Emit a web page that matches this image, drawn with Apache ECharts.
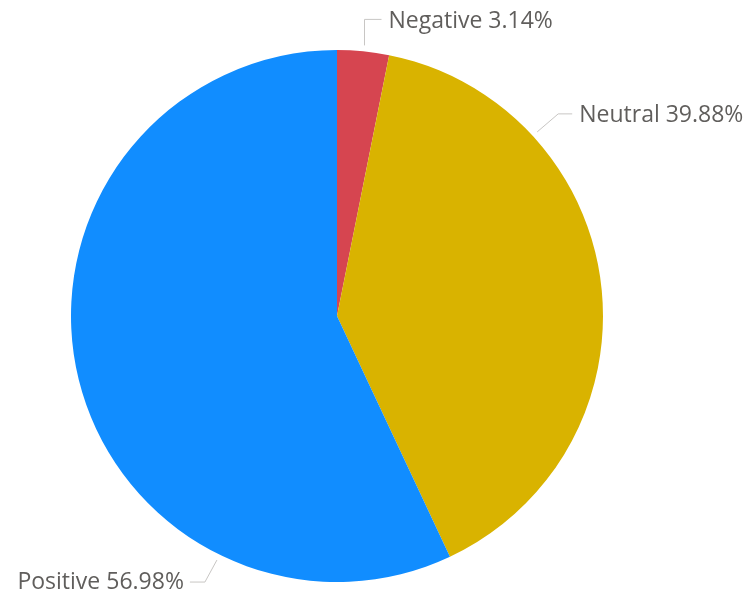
<!DOCTYPE html>
<html>
<head>
<meta charset="utf-8">
<script src="https://cdn.jsdelivr.net/npm/echarts@6/dist/echarts.min.js"></script>
<style>html,body{margin:0;padding:0;background:#fff}#c{width:750px;height:600px}</style>
</head>
<body>
<div id="c"></div>
<script>
const categories = ['Negative', 'Neutral', 'Positive'];
const values = [3.14, 39.88, 56.98];
const colors = ['#D64550', '#D9B300', '#118DFF'];

// label guide style (angles in degrees clockwise from top, elbow offsets)
const CX = 337, CY = 316, R = 266;
const guides = [
  { angle: 5.8,   elbow: [0, -26],  end: 17,  gap: 7,  align: 'left',  dy: 2 },
  { angle: 47.4,  elbow: [21, -18], end: 14,  gap: 7,  align: 'left',  dy: 2 },
  { angle: 206.2, elbow: [-12, 22], end: -15, gap: -6, align: 'right', dy: 0 }
];

const chart = echarts.init(document.getElementById('c'));
chart.setOption({
  animation: false,
  backgroundColor: '#ffffff',
  series: [{
    type: 'pie',
    center: [CX, CY],
    radius: R,
    startAngle: 90,
    clockwise: true,
    data: categories.map((n, i) => ({ name: n, value: values[i], itemStyle: { color: colors[i] } })),
    itemStyle: { borderWidth: 0 },
    label: {
      show: true,
      formatter: '{b} {d}%',
      fontFamily: 'Open Sans',
      fontSize: 23,
      color: '#605E5C',
      overflow: 'none',
      edgeDistance: 0,
      bleedMargin: 0
    },
    labelLine: { show: true, lineStyle: { color: '#C8C6C4', width: 1 } },
    labelLayout: function (params) {
      const g = guides[params.dataIndex];
      const a = g.angle * Math.PI / 180;
      const p0 = [CX + (R + 6) * Math.sin(a), CY - (R + 6) * Math.cos(a)];
      const p1 = [p0[0] + g.elbow[0], p0[1] + g.elbow[1]];
      const p2 = [p1[0] + g.end, p1[1]];
      return {
        x: p2[0] + g.gap,
        y: p2[1] + g.dy,
        align: g.align,
        verticalAlign: 'middle',
        labelLinePoints: [p0, p1, p2]
      };
    }
  }]
});
</script>
</body>
</html>
